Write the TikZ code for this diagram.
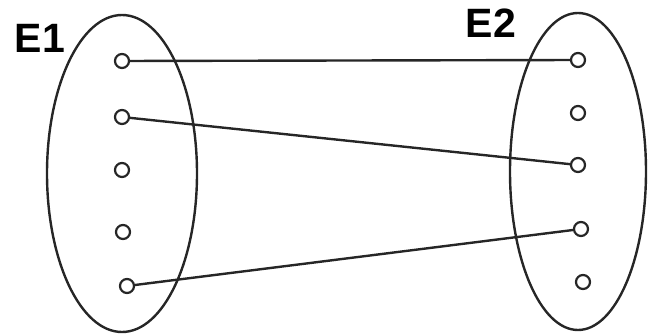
\documentclass[tikz,border=0pt]{standalone}
\usepackage{fontspec}
\setmainfont{Liberation Sans}
\usetikzlibrary{shapes.geometric}

\begin{document}
\begin{tikzpicture}[x=1pt,y=-1pt,line width=2.4pt,
 set/.style={draw=black!85,ellipse,inner sep=0pt},
 elem/.style={draw=black!85,circle,inner sep=0pt,minimum size=14pt,line width=2.2pt,fill=white},
 link/.style={draw=black!85,line width=2.4pt},
 setname/.style={font=\fontsize{41}{41}\selectfont\bfseries,inner sep=0pt}]
 \useasboundingbox (0,0) rectangle (649,334);
 \node[set,minimum width=150pt,minimum height=317pt] (e1) at (122,173.5) {};
 \node[set,minimum width=136pt,minimum height=317pt] (e2) at (578,171.5) {};
 \node[setname] (e1name) at (40,38) {E1};
 \node[setname] (e2name) at (491,23.5) {E2};
 % elements of both sets
 \foreach \i/\x/\y in {1/122/61,2/122/117,3/122/170,4/123/232,5/127/286}{\node[elem] (a\i) at (\x,\y) {};}
 \foreach \i/\x/\y in {1/578/60,2/578/113,3/578/165,4/581/229,5/583/282}{\node[elem] (b\i) at (\x,\y) {};}
 \draw[link] (a1)--(b1);\draw[link] (a2)--(b3);\draw[link] (a5)--(b4);
\end{tikzpicture}
\end{document}
